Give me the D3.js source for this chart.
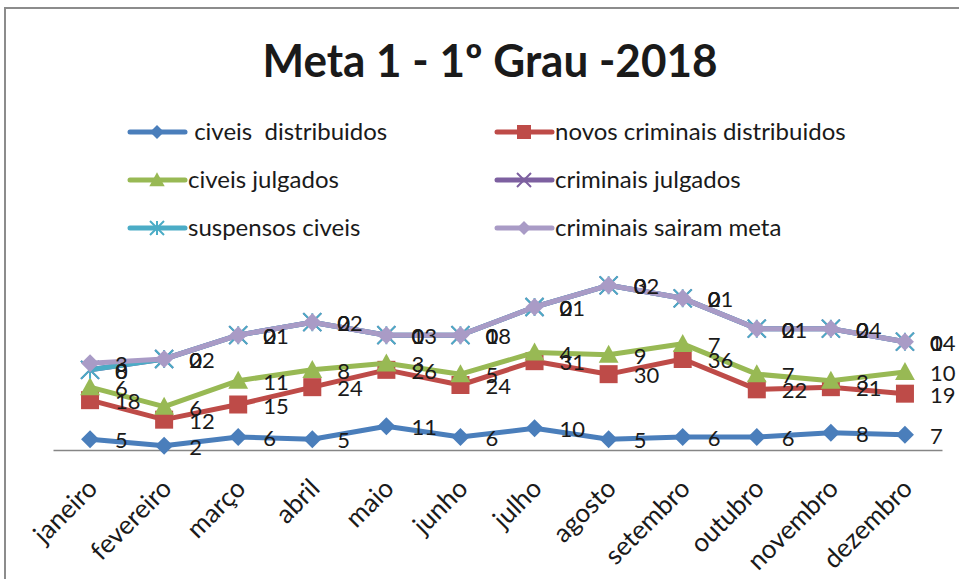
<!DOCTYPE html>
<html>
<head>
<meta charset="utf-8">
<script src="https://cdn.jsdelivr.net/npm/d3@7"></script>
<style>
  body { margin: 0; background: #fff; }
  svg text { font-family: Lato, "Open Sans", sans-serif; fill: #1a1a1a; }
</style>
</head>
<body>
<div id="container"></div>
<script>
// values (stacked line chart, each series on top of the previous one)
const months = ["janeiro", "fevereiro", "março", "abril", "maio", "junho", "julho", "agosto", "setembro", "outubro", "novembro", "dezembro"];
const civeisDistribuidos = [5, 2, 6, 5, 11, 6, 10, 5, 6, 6, 8, 7];
const criminaisDistribuidos = [18, 12, 15, 24, 26, 24, 31, 30, 36, 22, 21, 19];
const civeisJulgados = [6, 6, 11, 8, 3, 5, 4, 9, 7, 7, 3, 10];
const criminaisJulgados = [8, 22, 21, 22, 13, 18, 21, 32, 21, 21, 24, 14];
const suspensosCiveis = [0, 0, 0, 0, 0, 0, 0, 0, 0, 0, 0, 0];
const criminaisSairamMeta = [3, 0, 0, 0, 0, 0, 0, 0, 0, 0, 0, 0];
const seriesNames = [" civeis  distribuidos", "novos criminais distribuidos", "civeis julgados", "criminais julgados", "suspensos civeis", "criminais sairam meta"];
const chartTitle = "Meta 1 - 1º Grau -2018";

const seriesValues = [civeisDistribuidos, criminaisDistribuidos, civeisJulgados, criminaisJulgados, suspensosCiveis, criminaisSairamMeta];
const colors = ["#4A7EBB", "#BE4B48", "#98B954", "#7D60A0", "#4BACC6", "#A99BC6"];
const markers = ["diamond", "square", "triangle", "x", "star", "diamond"];

const width = 959;
const height = 579;

const svg = d3.select("#container")
  .append("svg")
  .attr("width", width)
  .attr("height", height);

// chart border
svg.append("rect")
  .attr("x", 5).attr("y", 8)
  .attr("width", 1000).attr("height", 1000)
  .attr("fill", "none")
  .attr("stroke", "#8c8c8c")
  .attr("stroke-width", 2);

// title
svg.append("text")
  .attr("x", 490)
  .attr("y", 77)
  .attr("text-anchor", "middle")
  .attr("textLength", 455)
  .attr("lengthAdjust", "spacingAndGlyphs")
  .style("font-size", "45px")
  .style("font-weight", "bold")
  .text(chartTitle);

// build the table and stack it
const keys = seriesNames.map(function(d, i) { return "s" + i; });
const table = months.map(function(m, i) {
  const row = { month: m };
  keys.forEach(function(k, j) { row[k] = seriesValues[j][i]; });
  return row;
});
const stacked = d3.stack().keys(keys)(table);

// scales
const x = d3.scaleBand()
  .domain(months)
  .range([53, 942]);
const y = d3.scaleLinear()
  .domain([0, 90])
  .range([450, 255]);
const cx = function(m) { return x(m) + x.bandwidth() / 2; };

// x axis
const xAxis = svg.append("g")
  .attr("transform", "translate(0,450)")
  .call(d3.axisBottom(x).tickSize(0).tickPadding(0));
xAxis.select(".domain").attr("stroke", "#868686").attr("stroke-width", 1.5);
xAxis.selectAll(".tick text")
  .attr("text-anchor", "end")
  .attr("transform", "translate(9,40) rotate(-45)")
  .attr("dy", 0)
  .style("font-size", "26px")
  .style("fill", "#1a1a1a");

// draw one marker of the given type
function drawMarker(g, type, color, px, py, s) {
  if (type === "diamond") {
    g.append("path")
      .attr("d", "M" + px + "," + (py - s) + "L" + (px + s) + "," + py + "L" + px + "," + (py + s) + "L" + (px - s) + "," + py + "Z")
      .attr("fill", color);
  } else if (type === "square") {
    g.append("rect")
      .attr("x", px - s).attr("y", py - s)
      .attr("width", 2 * s).attr("height", 2 * s)
      .attr("fill", color);
  } else if (type === "triangle") {
    g.append("path")
      .attr("d", "M" + px + "," + (py - s * 1.1) + "L" + (px + s * 1.1) + "," + (py + s * 0.9) + "L" + (px - s * 1.1) + "," + (py + s * 0.9) + "Z")
      .attr("fill", color);
  } else if (type === "x" || type === "star") {
    let d = "M" + (px - s) + "," + (py - s) + "L" + (px + s) + "," + (py + s) +
            "M" + (px - s) + "," + (py + s) + "L" + (px + s) + "," + (py - s);
    if (type === "star") d += "M" + px + "," + (py - s) + "L" + px + "," + (py + s);
    g.append("path")
      .attr("d", d)
      .attr("stroke", color)
      .attr("stroke-width", 2)
      .attr("fill", "none");
  }
}

// lines and markers
const line = d3.line()
  .x(function(d) { return cx(d.data.month); })
  .y(function(d) { return y(d[1]); });

stacked.forEach(function(layer, i) {
  const g = svg.append("g").attr("class", "series-" + i);
  g.append("path")
    .datum(layer)
    .attr("d", line)
    .attr("fill", "none")
    .attr("stroke", colors[i])
    .attr("stroke-width", 5)
    .attr("stroke-linejoin", "round");
  layer.forEach(function(d) {
    drawMarker(g, markers[i], colors[i], cx(d.data.month), y(d[1]), 9);
  });
});

// data labels (right of each point)
stacked.forEach(function(layer, i) {
  svg.append("g")
    .selectAll("text")
    .data(layer)
    .enter()
    .append("text")
    .attr("x", function(d) { return cx(d.data.month) + 25; })
    .attr("y", function(d) { return y(d[1]) + 9; })
    .style("font-size", "22px")
    .text(function(d) { return seriesValues[i][months.indexOf(d.data.month)]; });
});

// legend, two columns
const legendCols = [130, 497];
const legendRows = [132, 180, 228];
seriesNames.forEach(function(name, i) {
  const lx = legendCols[i % 2];
  const ly = legendRows[Math.floor(i / 2)];
  const g = svg.append("g").attr("class", "legend");
  g.append("line")
    .attr("x1", lx).attr("x2", lx + 55)
    .attr("y1", ly).attr("y2", ly)
    .attr("stroke", colors[i])
    .attr("stroke-width", 5)
    .attr("stroke-linecap", "round");
  drawMarker(g, markers[i], colors[i], lx + 27, ly, 7);
  g.append("text")
    .attr("x", lx + 58)
    .attr("y", ly + 8)
    .style("font-size", "24px")
    .style("white-space", "pre")
    .text(name);
});
</script>
</body>
</html>
